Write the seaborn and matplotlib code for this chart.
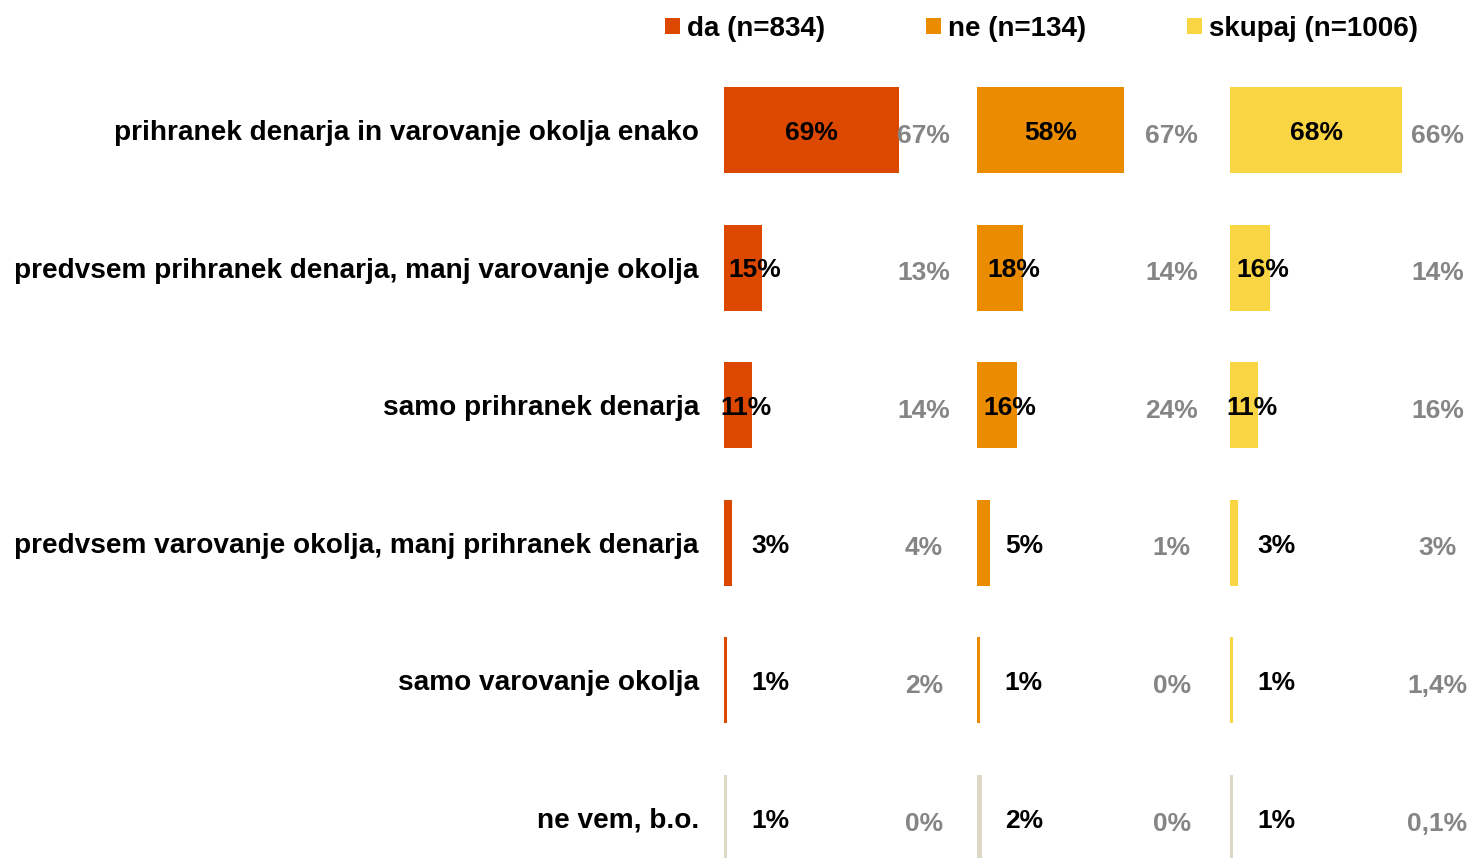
import matplotlib
matplotlib.use("Agg")
import matplotlib.pyplot as plt
from matplotlib.patches import Patch
import pandas as pd
import seaborn as sns

# answers (rows, top to bottom)
categories = [
    "prihranek denarja in varovanje okolja enako",
    "predvsem prihranek denarja, manj varovanje okolja",
    "samo prihranek denarja",
    "predvsem varovanje okolja, manj prihranek denarja",
    "samo varovanje okolja",
    "ne vem, b.o.",
]
groups = ["da (n=834)", "ne (n=134)", "skupaj (n=1006)"]

# current shares (%), one list per group
da = [69, 15, 11, 3, 1, 1]
ne = [58, 18, 16, 5, 1, 2]
skupaj = [68, 16, 11, 3, 1, 1]

# previous wave (grey numbers)
da_prev = [67, 13, 14, 4, 2, 0]
ne_prev = [67, 14, 24, 1, 0, 0]
skupaj_prev = [66, 14, 16, 3, 1.4, 0.1]

COLORS = ["#DD4800", "#EB8C00", "#F9D443"]
DK_COLOR = "#DDD8C5"   # "ne vem" bars
GREY = "#858585"

sns.set_style("white")
plt.rcParams["font.family"] = ["Liberation Sans", "DejaVu Sans"]
plt.rcParams["font.weight"] = "bold"
plt.rcParams["text.color"] = "black"

W, H = 1472, 858
fig = plt.figure(figsize=(W / 100, H / 100), dpi=100)

x0, pw = 724, 253          # left of first panel, panel width in px (= 100 %)
top, row_h = 130, 137.6    # first row centre, row spacing in px


def fmt(v):
    return f"{v:g}".replace(".", ",") + "%"


def label_x(v):
    # rough imitation of where the value labels sit
    if v >= 30:
        return v / 2
    if v >= 10:
        return v * 0.8
    return 18.5


series = [(da, da_prev), (ne, ne_prev), (skupaj, skupaj_prev)]
grey_x = [79, 77, 82]
axes = []
for i, (vals, prev) in enumerate(series):
    ax = fig.add_axes([(x0 + pw * i) / W, 0, pw / W, 1 - (top - row_h / 2) / H])
    df = pd.DataFrame({"cat": categories, "val": vals})
    pal = [COLORS[i]] * (len(categories) - 1) + [DK_COLOR]
    sns.barplot(data=df, x="val", y="cat", hue="cat", palette=pal, legend=False,
                orient="h", width=0.625, ax=ax, saturation=1, edgecolor="none")
    ax.set_xlim(0, 100)
    ax.set_ylim((H - top) / row_h, -0.5)
    ax.set_xlabel("")
    ax.set_ylabel("")
    ax.set_xticks([])
    sns.despine(ax=ax, left=True, bottom=True)
    for j, (v, p) in enumerate(zip(vals, prev)):
        ax.text(label_x(v), j + 0.02, fmt(v), ha="center", va="center",
                fontsize=19, fontweight="bold", color="black")
        ax.text(grey_x[i], j + 0.04, fmt(p), ha="center", va="center",
                fontsize=19, fontweight="bold", color=GREY)
    if i == 0:
        ax.tick_params(axis="y", length=0, pad=18, labelsize=20.2,
                       labelcolor="black")
        for t in ax.get_yticklabels():
            t.set_fontweight("bold")
    else:
        ax.set_yticks([])
    axes.append(ax)

handles = [Patch(facecolor=c, edgecolor="none") for c in COLORS]
fig.legend(handles, groups, ncol=3, loc="center left",
           bbox_to_anchor=(665 / W, 1 - 29 / H), frameon=False,
           prop={"size": 20, "weight": "bold"}, labelcolor="black",
           handlelength=0.54, handleheight=0.54, handletextpad=0.25,
           columnspacing=3.63, borderpad=0, borderaxespad=0)

fig.savefig("out.png", dpi=100)
